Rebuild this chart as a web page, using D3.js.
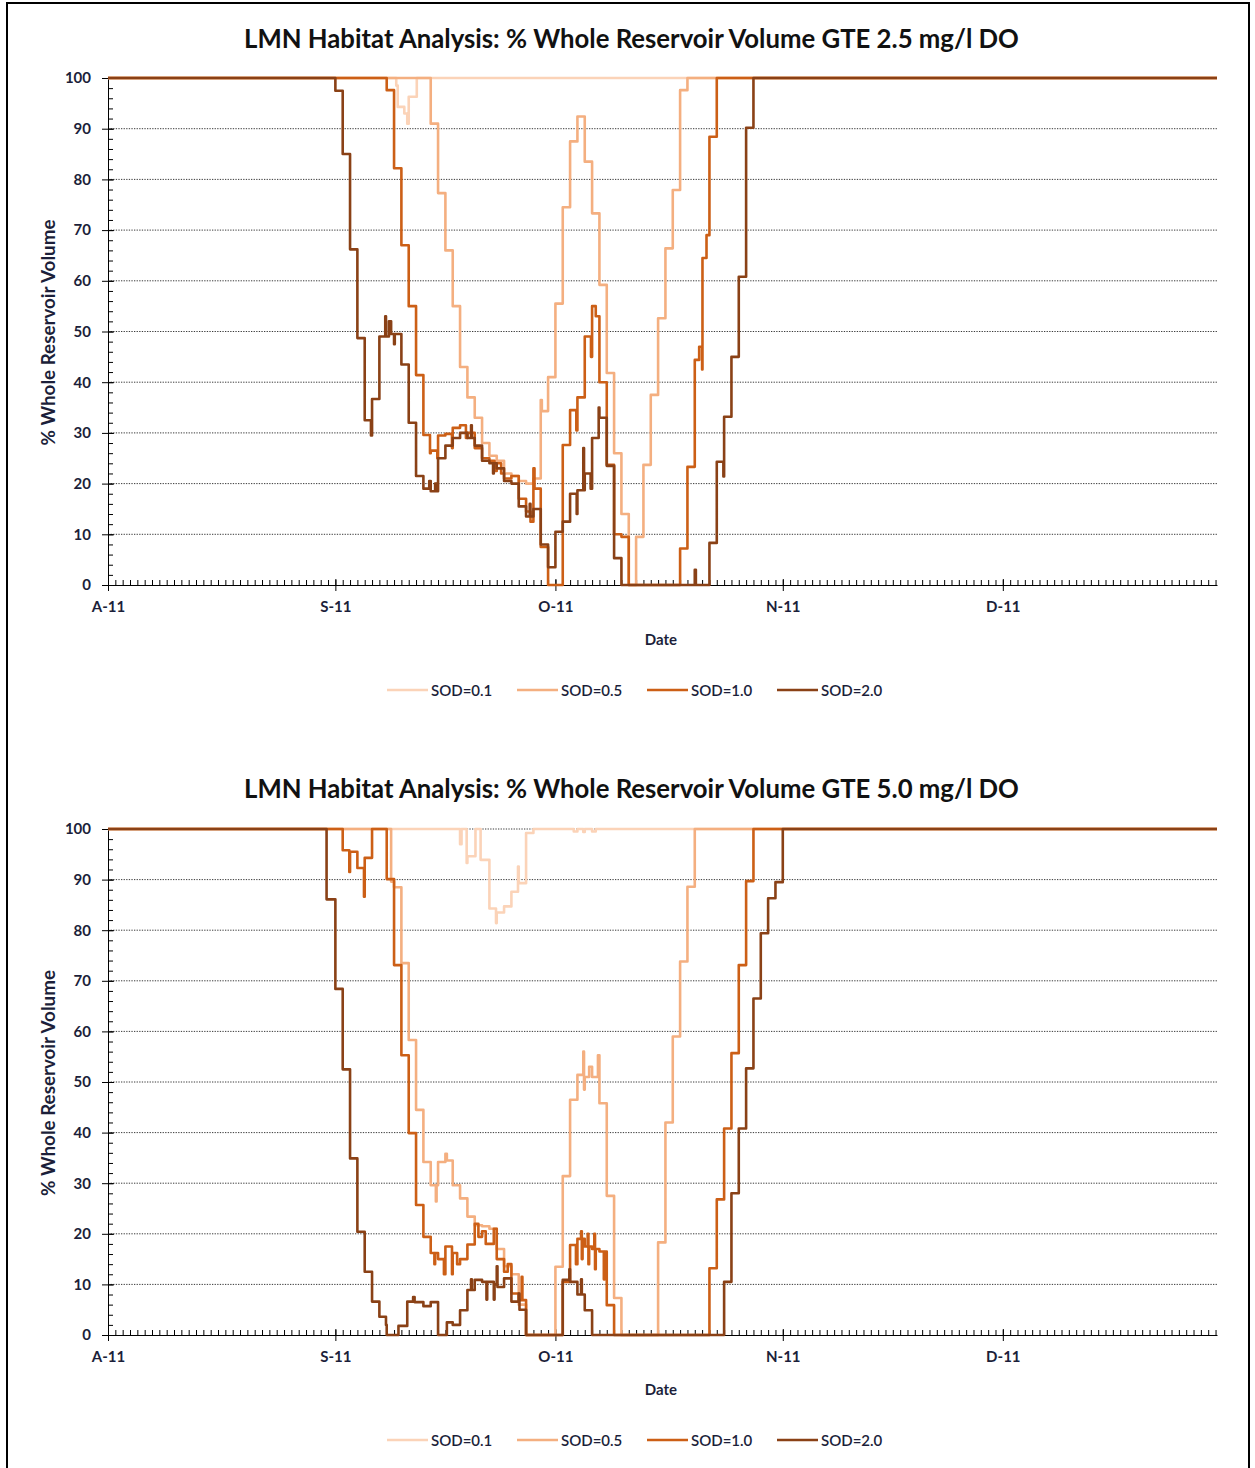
<!DOCTYPE html>
<html><head><meta charset="utf-8">
<script src="https://cdn.jsdelivr.net/npm/d3@7"></script>
<style>
body{margin:0;background:#fff}
svg{display:block}
text{font-family:Lato,"Open Sans","DejaVu Sans",sans-serif}
</style>
</head><body>
<svg id="c" width="1255" height="1468"></svg>
<script>
// ---------- DATA (day index from 1 Aug 2011, % volume) ----------
const seriesNames = ["SOD=0.1","SOD=0.5","SOD=1.0","SOD=2.0"];
const seriesColors = ["#FBD3B8","#F4AF80","#CC5F16","#8A4116"];
const monthTicks = [0,31,61,92,122];
const monthLabels = ["A-11","S-11","O-11","N-11","D-11"];
const yTicks = [0,10,20,30,40,50,60,70,80,90,100];
const lastDay = 151.2;

// GTE 2.5 mg/l DO
const do25_sod01 = [[0,100],[39.3,98.5],[39.5,94.3],[40.4,93],[40.8,91],[41,96.3],[42.1,100],[151.2,100]];
const do25_sod05 = [[0,100],[44,91],[45,77.3],[46,66],[47,55],[48,43],[49,37],[50,33],[51,28],[52,25.5],[53,24.5],[54,22],[55,21.5],[56,20.5],[57,20],[58,21],[59,36.5],[59.15,34.3],[60,41],[61,55.5],[62,74.5],[63,87.5],[64,92.4],[65,83.5],[66,73.3],[67,59.2],[68,41.8],[69,26],[70,14],[71,0],[72,9.5],[73,23.7],[74,37.5],[75,52.6],[76,66.4],[77,77.9],[78,97.6],[79,100],[151.2,100]];
const do25_sod10 = [[0,100],[38,97.6],[39,82.2],[40,67],[41,55],[42,41.4],[43,29.6],[43.9,26],[44,26.5],[44.9,25],[45,29.5],[46,29.8],[46.9,27],[47,31],[48,31.5],[48.8,29],[49,30],[50,27],[51,25],[52,24.5],[52.7,22.5],[53,24],[53.6,22],[54,21],[55,21.5],[56,17],[57,14.5],[57.6,12.5],[58,23],[58.15,19],[59,7.5],[60,0],[62,27.6],[63,34.5],[63.85,30.5],[64,37],[65,49],[65.85,45],[66,55],[66.5,53],[67,40],[68,23.7],[69,10],[70,9.5],[71,0],[78,7.2],[79,23.3],[80,44.4],[80.6,47],[81,42.5],[81.05,64.5],[81.6,69],[82,88.4],[83,100],[151.2,100]];
const do25_sod20 = [[0,100],[31,97.5],[32,85],[33,66.2],[34,48.7],[35,32.5],[35.85,29.5],[36,36.7],[37,49],[37.8,53],[37.9,49],[38.3,52],[38.6,49.5],[39,47.5],[39.1,49.5],[40,43.5],[41,32],[42,21.5],[43,19],[43.8,20.5],[44,18.5],[44.6,20],[44.8,18.5],[45,25],[46,27.5],[47,29],[48,30],[49,29],[49.5,31.5],[49.6,29],[50,27.5],[51,24.5],[52,24],[52.5,22],[52.6,24],[53,23],[54,20.5],[55,20],[56,15.5],[57,13.5],[57.5,16],[57.6,13.5],[58,15],[59,8],[60,3.5],[61,10.5],[62,12.5],[63,18],[63.9,14],[64,18.7],[64.8,27],[64.9,18.7],[65,22],[65.8,19],[66,29],[66.9,35],[67,33],[68,23.5],[69,5.3],[70,0],[80,3],[80.15,0],[82,8.3],[83,24.3],[83.9,21.4],[84,33.2],[85,45],[86,60.8],[87,90.2],[88,100],[151.2,100]];

// GTE 5.0 mg/l DO
const do50_sod01 = [[0,100],[48,97],[48.2,100],[48.9,93.3],[49,94.6],[50.1,100],[50.8,93.9],[52,84.3],[52.9,81.4],[53,83.5],[54,84.7],[55,87.6],[55.9,92.6],[56,89.3],[57,99.2],[58,100],[63.5,99.5],[64,100],[64.8,99.4],[65,100],[66,99.5],[66.5,100],[151.2,100]];
const do50_sod05 = [[0,100],[38.6,89.6],[39,88.5],[40,73.5],[41,58.3],[42,44.5],[43,34.2],[44,29.6],[44.7,26.4],[44.8,29.6],[45,34.2],[46,35.8],[46.2,34.5],[47,29.6],[48,27],[49,23.4],[50,21.7],[51,21.5],[52,21],[53,17],[54,13.6],[55,12],[56,6],[57,0],[61,13.5],[62,31.4],[63,46.5],[64,51.4],[64.8,56],[64.9,48.5],[65,51],[65.6,53],[66,51],[66.8,55.3],[67,45.8],[68,27.5],[69,7.3],[70,0],[75,18.3],[76,42],[77,59],[78,73.8],[79,88.6],[80,100],[151.2,100]];
const do50_sod10 = [[0,100],[32,95.8],[32.9,91.5],[33,95.5],[34,92.3],[34.9,86.6],[35,94.3],[36,100],[38,90.1],[39,73.1],[40,55.3],[41,39.9],[42,25.7],[43,19.4],[44,16.2],[44.5,14],[44.6,16.2],[45,15],[45.8,12],[46,17.5],[46.9,12],[47,16.2],[47.6,14],[48,15],[49,17.9],[50,22],[50.5,19.4],[51,20.5],[51.5,18],[52,18],[52.6,21],[53,15],[54,12.5],[54.5,14],[55,8.2],[56,6.9],[56.4,11.5],[56.5,6.9],[57,0],[62,10.5],[63,17.8],[63.8,14],[64,19],[64.5,20.5],[64.6,15],[64.7,19],[65,17.5],[65.4,20],[65.5,14],[65.6,17.5],[66,17],[66.3,20],[66.4,13],[66.5,17],[67,16.5],[67.6,11],[67.7,16.5],[68,5.9],[69,0],[82,13.2],[83,26.8],[84,40.8],[85,55.7],[86,73.1],[87,89.7],[88,100],[151.2,100]];
const do50_sod20 = [[0,100],[29.8,86.1],[31,68.4],[32,52.5],[33,34.9],[34,20.4],[35,12.5],[36,6.6],[37,3.6],[37.9,2],[38,0],[39.6,1.8],[40.8,6.6],[41.6,7.5],[41.8,6.5],[43,5.7],[44,6.5],[45,0],[46.2,2.5],[47,2],[48,4.9],[49,8.9],[49.5,11],[49.6,8.9],[50,10.9],[51,10.5],[51.6,7],[51.7,10.5],[52,10.5],[52.6,7],[52.7,10],[53,13.6],[53.1,9.5],[54,11.2],[55,6.6],[56,8.2],[56.1,5],[57,0],[62,10.9],[62.9,13],[63,10.5],[64,8],[64.5,11],[64.6,8],[65,4.9],[66,0],[84,10.5],[85,28],[86,40.8],[87,52.7],[88,66.5],[89,79.4],[90,86.3],[91,89.5],[92,100],[151.2,100]];

// ---------- DRAW ----------
const svg = d3.select("#c");
const labelColor = "#1c1f3a";

svg.append("rect").attr("x",7).attr("y",3).attr("width",1242).attr("height",1520)
  .attr("fill","none").attr("stroke","#000").attr("stroke-width",2);

function fitWidth(t, w){
  const cur = t.node().getComputedTextLength();
  const fs = parseFloat(t.style("font-size"));
  t.style("font-size", (fs*w/cur)+"px");
}

function panel(cfg){
  const x = d3.scaleLinear().domain([0,lastDay]).range([108,1217]);
  const y = d3.scaleLinear().domain([0,100]).range([cfg.y0, cfg.y100]);
  const g = svg.append("g");

  // title
  const tt = g.append("text").attr("x",631.5).attr("y",cfg.titleY)
    .attr("text-anchor","middle").attr("dominant-baseline","central")
    .style("font-size","22px").style("font-weight","700").attr("fill","#111")
    .text(cfg.title);
  fitWidth(tt, 775);

  // gridlines
  g.append("g").selectAll("line").data(yTicks.filter(d=>d>0)).join("line")
    .attr("x1",x(0)).attr("x2",x(lastDay))
    .attr("y1",d=>y(d)).attr("y2",d=>y(d))
    .attr("stroke","#3a3a3a").attr("stroke-width",1).attr("stroke-dasharray","1.3,1.3");

  // y axis
  const ya = g.append("g").attr("transform",`translate(${x(0)},0)`)
    .call(d3.axisLeft(y).tickValues(yTicks).tickSize(6).tickSizeOuter(0).tickPadding(11));
  ya.selectAll("text").style("font-size","15px").style("font-weight","700").attr("fill",labelColor);
  g.append("g").attr("transform",`translate(${x(0)},0)`)
    .call(d3.axisRight(y).tickValues(d3.range(0,101,2)).tickSize(5).tickFormat(""))
    .call(s=>s.select(".domain").remove());
  g.append("g").attr("transform",`translate(${x(0)},0)`)
    .call(d3.axisRight(y).tickValues(yTicks).tickSize(6).tickFormat(""))
    .call(s=>s.select(".domain").remove());

  // x axis
  const xa = g.append("g").attr("transform",`translate(0,${cfg.y0})`)
    .call(d3.axisBottom(x).tickValues(monthTicks).tickSize(6).tickSizeOuter(0).tickPadding(10)
      .tickFormat((d,i)=>monthLabels[i]));
  xa.selectAll("text").style("font-size","15px").style("font-weight","700").attr("fill",labelColor);
  g.append("g").attr("transform",`translate(0,${cfg.y0})`)
    .call(d3.axisTop(x).tickValues(d3.range(0,152,1)).tickSize(5).tickFormat(""))
    .call(s=>s.select(".domain").remove());
  g.append("g").attr("transform",`translate(0,${cfg.y0})`)
    .call(d3.axisTop(x).tickValues(monthTicks).tickSize(6).tickFormat(""))
    .call(s=>s.select(".domain").remove());

  // series
  const line = d3.line().x(d=>x(d[0])).y(d=>y(d[1])).curve(d3.curveStepAfter);
  cfg.series.forEach((s,i)=>{
    g.append("path").datum(s).attr("d",line).attr("fill","none")
      .attr("stroke",seriesColors[i]).attr("stroke-width",2.6)
      .attr("stroke-linejoin","round").attr("stroke-linecap","butt");
  });

  // y title
  const yt = g.append("text")
    .attr("transform",`translate(47,${(cfg.y0+cfg.y100)/2 + 1}) rotate(-90)`)
    .attr("text-anchor","middle").attr("dominant-baseline","central")
    .style("font-size","15px").style("font-weight","700").attr("fill",labelColor)
    .text("% Whole Reservoir Volume");
  fitWidth(yt, 226);

  // x title
  g.append("text").attr("x",661).attr("y",cfg.y0+54).attr("text-anchor","middle")
    .attr("dominant-baseline","central").style("font-size","15px").style("font-weight","700")
    .attr("fill",labelColor).text("Date");

  // legend
  const ly = cfg.y0 + 105;
  seriesNames.forEach((n,i)=>{
    const lx = 387 + i*130;
    g.append("line").attr("x1",lx).attr("x2",lx+41).attr("y1",ly).attr("y2",ly)
      .attr("stroke",seriesColors[i]).attr("stroke-width",2.6);
    g.append("text").attr("x",lx+44).attr("y",ly).attr("dominant-baseline","central")
      .style("font-size","15px").style("font-weight","600").attr("fill",labelColor).text(n);
  });
}

panel({title:"LMN Habitat Analysis: % Whole Reservoir Volume GTE 2.5 mg/l DO", titleY:38,
  y0:585, y100:78, series:[do25_sod01,do25_sod05,do25_sod10,do25_sod20]});
panel({title:"LMN Habitat Analysis: % Whole Reservoir Volume GTE 5.0 mg/l DO", titleY:788,
  y0:1335, y100:829, series:[do50_sod01,do50_sod05,do50_sod10,do50_sod20]});
</script>
</body></html>
